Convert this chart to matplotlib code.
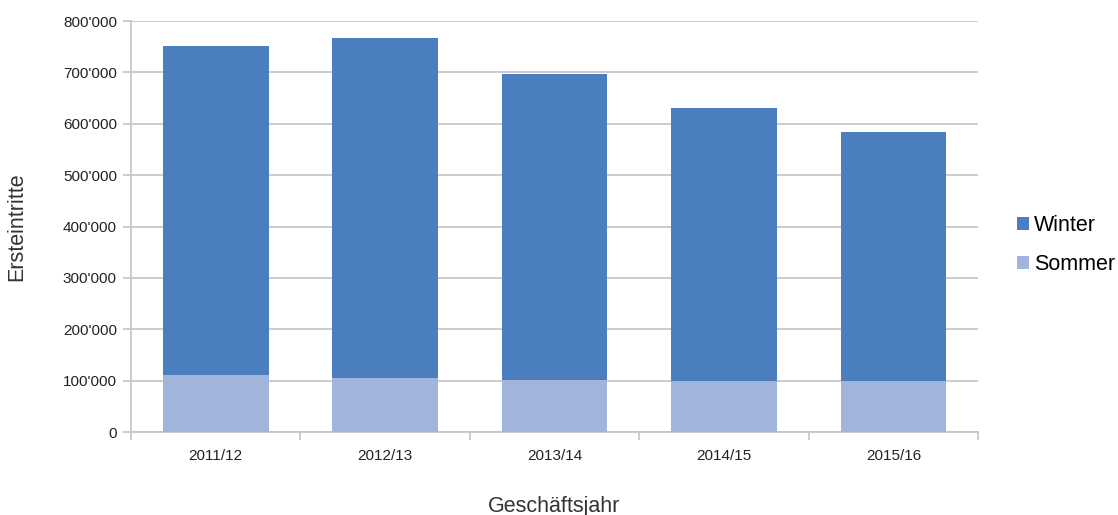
import matplotlib.pyplot as plt
from matplotlib.ticker import FuncFormatter, FixedLocator
import numpy as np

plt.rcParams['font.family'] = ['Liberation Sans', 'DejaVu Sans']

years = ['2011/12', '2012/13', '2013/14', '2014/15', '2015/16']
total = [751000, 768000, 698000, 630000, 584000]
sommer = [111000, 105000, 101000, 99000, 99000]
winter = [t - s for t, s in zip(total, sommer)]

c_winter = '#4a7ebf'
c_sommer = '#a1b5dc'
grid_c = '#c4c4c4'

fig = plt.figure(figsize=(11.18, 5.15), dpi=100)
ax = fig.add_axes([0.117, 0.161, 0.758, 0.798])

x = np.arange(len(years))
ax.bar(x, sommer, width=0.625, color=c_sommer, label='Sommer', zorder=3)
ax.bar(x, winter, width=0.625, bottom=sommer, color=c_winter, label='Winter', zorder=3)

ax.set_xlim(-0.5, len(years) - 0.5)
ax.set_ylim(0, 800000)
ax.set_yticks(np.arange(0, 800001, 100000))
ax.yaxis.set_major_formatter(FuncFormatter(lambda v, p: '0' if v == 0 else f"{int(v):,}".replace(',', "'")))
ax.grid(axis='y', color=grid_c, linewidth=1.2, zorder=0)

ax.set_xticks(x)
ax.set_xticklabels(years)
ax.xaxis.set_minor_locator(FixedLocator(np.arange(-0.5, len(years), 1.0)))
ax.tick_params(axis='x', which='major', length=0, pad=12, labelsize=11, colors='#222222')
ax.tick_params(axis='x', which='minor', length=6, color=grid_c, width=1.2)
ax.tick_params(axis='y', length=6, color=grid_c, width=1.2, labelsize=11, labelcolor='#222222', pad=4)

for s in ['top', 'right']:
    ax.spines[s].set_visible(False)
for s in ['left', 'bottom']:
    ax.spines[s].set_color(grid_c)
    ax.spines[s].set_linewidth(1.2)

ax.set_ylabel('Ersteintritte', fontsize=15.5, color='#333333', labelpad=26)
ax.set_xlabel('Geschäftsjahr', fontsize=15.5, color='#333333', labelpad=24)

handles, labels = ax.get_legend_handles_labels()
ax.legend(handles[::-1], labels[::-1], loc='center left', bbox_to_anchor=(1.035, 0.455),
          frameon=False, fontsize=15.5, handlelength=0.6, handleheight=0.6,
          handletextpad=0.2, labelspacing=0.85, borderaxespad=0)

fig.savefig('out.png', dpi=100)
